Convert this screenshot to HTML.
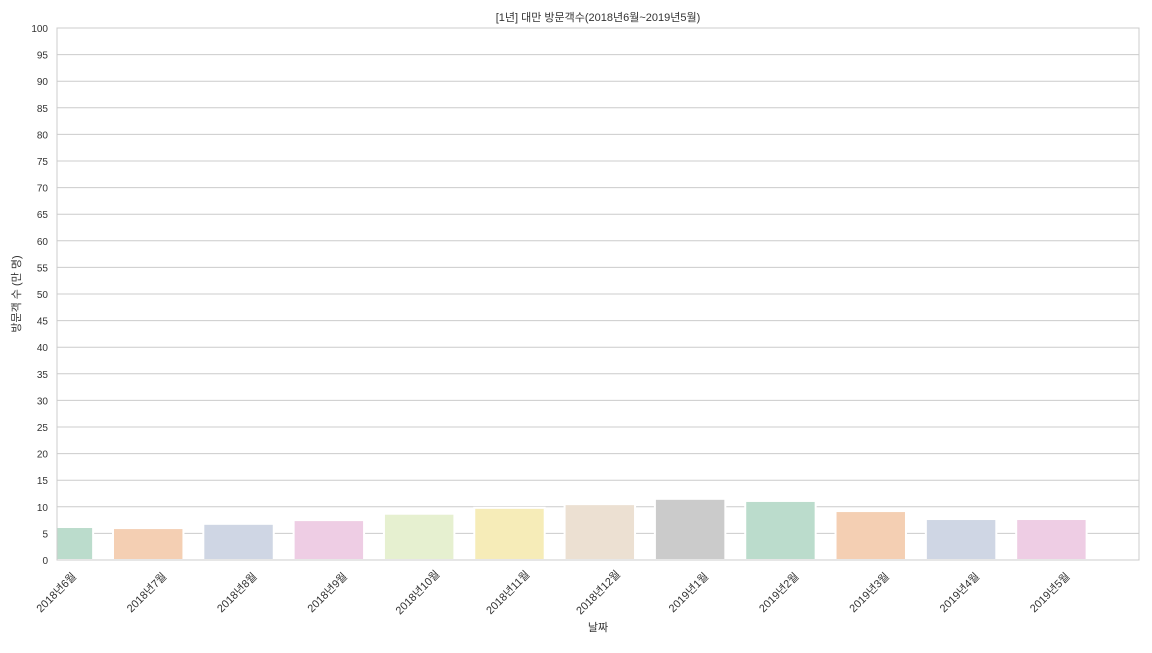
<!DOCTYPE html>
<html><head><meta charset="utf-8"><style>
body{margin:0;background:#fff;}
svg text{font-family:"Liberation Sans","Noto Sans CJK KR",sans-serif;fill:#333;}
</style></head><body>
<svg id="chart" width="1152" height="648" xmlns="http://www.w3.org/2000/svg">
<rect width="1152" height="648" fill="#fff"/>
<g id="grid"></g>
<g id="bars"></g>
<rect x="57" y="28" width="1082" height="532" fill="none" stroke="#ccc" stroke-width="1"/>
<g id="yticks"></g>
<g id="xticks"></g>
<text x="598" y="21" font-size="11" text-anchor="middle">[1년] 대만 방문객수(2018년6월~2019년5월)</text>
<text x="598" y="631" font-size="11" text-anchor="middle">날짜</text>
<text x="0" y="0" font-size="11" text-anchor="middle" transform="translate(20,294) rotate(-90)">방문객 수 (만 명)</text>
</svg>
<script>
const categories=["2018년6월","2018년7월","2018년8월","2018년9월","2018년10월","2018년11월","2018년12월","2019년1월","2019년2월","2019년3월","2019년4월","2019년5월"];
const visitors=[6.2,6.0,6.8,7.5,8.7,9.8,10.5,11.5,11.1,9.2,7.7,7.7];
const yTicks=[0,5,10,15,20,25,30,35,40,45,50,55,60,65,70,75,80,85,90,95,100];
const colors=["#bbdccc","#f4cfb3","#cfd6e4","#eecde4","#e6f0d0","#f6ecb8","#ece0d2","#cbcbcb"];
const NS="http://www.w3.org/2000/svg";
const X0=57,X1=1139,Y0=560,Y1=28;
const xmin=-0.01,xmax=11.97;
function xs(i){return X0+(i-xmin)/(xmax-xmin)*(X1-X0);}
function ys(v){return Y0-(v/100)*(Y0-Y1);}
const step=xs(1)-xs(0),bw=step*0.78;
const grid=document.getElementById('grid'),bars=document.getElementById('bars'),yt=document.getElementById('yticks'),xt=document.getElementById('xticks');
yTicks.forEach(t=>{
 const l=document.createElementNS(NS,'line');
 
 
 l.setAttribute('x1',X0);l.setAttribute('x2',X1);l.setAttribute('y1',ys(t));l.setAttribute('y2',ys(t));
 l.setAttribute('stroke','#ccc');l.setAttribute('stroke-width','1');
 grid.appendChild(l);
 const tx=document.createElementNS(NS,'text');
 
 
 tx.setAttribute('x',48);tx.setAttribute('y',ys(t)+4);tx.setAttribute('font-size','10');tx.setAttribute('text-anchor','end');
 tx.textContent=t;yt.appendChild(tx);
});
const cp=document.createElementNS(NS,'clipPath');cp.id='pc';
const cr=document.createElementNS(NS,'rect');cr.setAttribute('x',X0);cr.setAttribute('y',Y1);cr.setAttribute('width',X1-X0);cr.setAttribute('height',Y0-Y1);
cp.appendChild(cr);document.getElementById('chart').appendChild(cp);
bars.setAttribute('clip-path','url(#pc)');
categories.forEach((c,i)=>{
 const r=document.createElementNS(NS,'rect');
 
 
 const cx=xs(i);
 r.setAttribute('x',cx-bw/2);r.setAttribute('width',bw);
 r.setAttribute('y',ys(visitors[i]));r.setAttribute('height',Y0-ys(visitors[i]));
 r.setAttribute('fill',colors[i%colors.length]);r.setAttribute('stroke','#fff');r.setAttribute('stroke-width','2');
 bars.appendChild(r);
 const tx=document.createElementNS(NS,'text');
 
 
 tx.setAttribute('font-size','11');tx.setAttribute('text-anchor','middle');
 tx.setAttribute('transform','translate('+(cx+1)+',595) rotate(-45)');
 tx.textContent=c;xt.appendChild(tx);
});
</script>
</body></html>
